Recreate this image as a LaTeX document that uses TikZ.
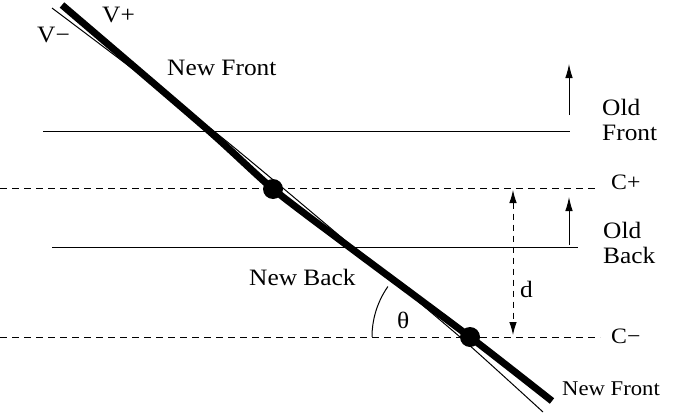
\documentclass[tikz,border=0pt]{standalone}
\usepackage{fontspec}
\setmainfont[FakeStretch=1.08]{Liberation Serif}
\usetikzlibrary{arrows.meta}

\begin{document}
\begin{tikzpicture}[x=1pt, y=-1pt,
	lbl/.style={inner sep=0pt, font=\fontsize{23.5}{25}\selectfont},
	small/.style={inner sep=0pt, font=\fontsize{21}{24}\selectfont},
	dot/.style={fill, circle, inner sep=0pt, minimum size=20pt},
	level/.style={line width=0.9pt},
	guide/.style={line width=0.9pt, dash pattern=on 7pt off 5pt},
	moveup/.style={line width=0.9pt, -{Latex[length=14pt,width=7.5pt]}},
	front/.style={line width=7pt},
	vline/.style={line width=1pt}]
	
	\useasboundingbox (0,0) rectangle (675,415);
	
	% ---- Adjustable heights ----
	\def\yOldFront{131}
	\def\yOldBack{247}
	\def\yCplus{188}
	\def\yCminus{337}
	
	% ---- Old front and old back ----
	\coordinate (ofL) at (43,\yOldFront);
	\coordinate (ofR) at (570,\yOldFront);
	\coordinate (obL) at (52,\yOldBack);
	\coordinate (obR) at (578,\yOldBack);
	\draw[level] (ofL) -- (ofR);
	\draw[level] (obL) -- (obR);
	
	% ---- Levels C+ and C- ----
	\foreach \y/\name/\len in {\yCplus/cp/598, \yCminus/cm/600}
	{
		\coordinate (\name L) at (0,\y);
		\coordinate (\name R) at (\len,\y);
		\draw[guide] (\name L) -- (\name R);
	}
	
	% ---- Motion of the old fronts ----
	\coordinate (ofA) at (569,115);
	\coordinate (ofB) at (569,64);
	\coordinate (obA) at (569,245);
	\coordinate (obB) at (569,197);
	\draw[moveup] (ofA) -- (ofB);
	\draw[moveup] (obA) -- (obB);
	
	% ---- Distance d ----
	\coordinate (dTop) at (513,190);
	\coordinate (dBot) at (513,335);
	\draw[guide, dash pattern=on 6pt off 5pt, {Latex[length=13pt,width=7.5pt]}-{Latex[length=13pt,width=7.5pt]}] (dTop) -- (dBot);
	
	% ---- Thin line (V-) ----
	\coordinate (s1) at (52,8);
	\coordinate (s2) at (215,132);
	\coordinate (s3) at (353,247);
	\coordinate (s4) at (460,337);
	\coordinate (s5) at (543,412);
	\draw[vline] plot[smooth, tension=0.4] coordinates {(s1) (s2) (s3) (s4) (s5)};
	
	% ---- Dots on the levels ----
	\node[dot] (cplus) at (273,189) {};
	\node[dot] (cminus) at (470,337) {};
	
	% ---- Thick line (V+) ----
	\coordinate (t1) at (62,5);
	\coordinate (t2) at (208,130);
	\coordinate (t4) at (348,246);
	\coordinate (t6) at (552,401);
	\draw[front] plot[smooth, tension=0.4] coordinates {(t1) (t2) (cplus) (t4) (cminus) (t6)};
	
	% ---- Angle theta ----
	\draw[vline] (372,\yCminus) arc[start angle=180, end angle=215, radius=88];
	
	% ---- Labels ----
	\node[lbl, anchor=base west] (vplus) at (102,23) {V+};
	\node[lbl, anchor=base west] (vminus) at (37,42) {V−};
	\node[lbl, anchor=base west] (newfront) at (167,75) {New Front};
	\node[lbl, anchor=base west] (newback) at (249,285) {New Back};
	\node[small, anchor=base west] (newfront2) at (562,395) {New Front};
	\node[lbl, anchor=north west, align=left] (oldfront) at (602,99) {Old\\Front};
	\node[lbl, anchor=north west, align=left] (oldback) at (603,222) {Old\\Back};
	\node[lbl, font=\fontsize{22}{24}\selectfont, anchor=base west] (cpluslbl) at (611,189) {C+};
	\node[lbl, font=\fontsize{22}{24}\selectfont, anchor=base west] (cminuslbl) at (611,343) {C−};
	\node[lbl, anchor=base west] (dlbl) at (520,297) {d};
	\node[lbl, anchor=base west] (theta) at (397,328) {θ};
	
\end{tikzpicture}
\end{document}
